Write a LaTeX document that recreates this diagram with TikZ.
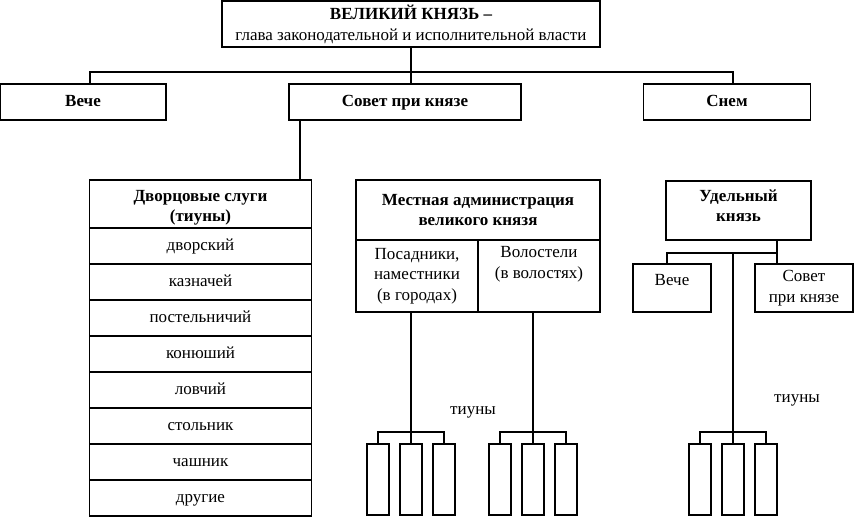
\documentclass[tikz,border=0pt]{standalone}
\usepackage{fontspec}
\setmainfont{Liberation Serif}
\begin{document}
\begin{tikzpicture}[x=1pt,y=-1pt,
  box/.style={draw, line width=1.1pt, inner sep=0pt, align=center, font=\fontsize{17}{20.5}\selectfont},
  bbox/.style={box, font=\fontsize{17}{20.5}\selectfont\bfseries},
  oneline/.style={text height=11.5pt, text depth=3.5pt},
  row/.style={box, oneline},
  ln/.style={line width=1.1pt},
  lbl/.style={inner sep=0pt, font=\fontsize{17}{20.5}\selectfont}]
\useasboundingbox (0,0) rectangle (855,517);
% top
\node[bbox, minimum width=378, minimum height=46] (top) at (411,24)
  {\rule{0pt}{15pt}ВЕЛИКИЙ КНЯЗЬ –\\ \mdseries глава законодательной и исполнительной власти};
\node[bbox, oneline, minimum width=166, minimum height=36] (veche) at (83,102) {Вече};
\node[bbox, oneline, minimum width=232, minimum height=36] (sovet) at (405,102) {Совет при князе};
\node[bbox, oneline, minimum width=167, minimum height=36] (snem) at (727,102) {Снем};
\coordinate (hl) at (90,72);
\coordinate (hr) at (733,72);
\draw[ln] (top.south -| 411,0) -- (sovet.north -| 411,0);
\draw[ln] (veche.north -| hl) -- (hl) -- (hr) -- (snem.north -| hr);
% palace servants
\node[bbox, minimum width=222, minimum height=48] (dh) at (200.5,204) {\rule{0pt}{19pt}Дворцовые слуги\\(тиуны)};
\foreach \t [count=\i] in {дворский,казначей,постельничий,конюший,ловчий,стольник,чашник,другие}
  \node[row, minimum width=222, minimum height=36] (r\i) at (200.5,210+36*\i) {\t};
\draw[ln] (sovet.south -| 300,0) -- (dh.north -| 300,0);
% local administration
\node[bbox, minimum width=244, minimum height=60] (mh) at (478,210) {Местная администрация\\великого князя};
\node[box, minimum width=122, minimum height=72] (ml) at (417,276) {Посадники,\\наместники\\(в городах)};
\node[box, minimum width=122, minimum height=72] (mr) at (539,276) {Волостели\\(в волостях)\\\strut};
% appanage prince
\node[bbox, minimum width=145, minimum height=59] (ud) at (738.5,210.5) {Удельный\\князь\rule[-10pt]{0pt}{10pt}};
\node[box, text height=12pt, text depth=17pt, minimum width=78, minimum height=48] (uv) at (672,288) {Вече};
\node[box, minimum width=98, minimum height=48] (us) at (804,288) {Совет\\при князе};
\coordinate (ul) at (667,253);
\coordinate (ur) at (777,253);
\coordinate (uc) at (733,253);
\draw[ln] (ud.south -| ur) -- (ur) -- (ul) -- (uv.north -| ul);
\draw[ln] (ur) -- (us.north -| ur);
% tiuny groups
\foreach \g/\cx in {a/411,b/533,c/733} {
  \node[box, minimum width=22, minimum height=71] (\g1) at (\cx-33,479.5) {};
  \node[box, minimum width=22, minimum height=71] (\g2) at (\cx,479.5) {};
  \node[box, minimum width=22, minimum height=71] (\g3) at (\cx+33,479.5) {};
  \coordinate (\g t) at (\cx,432);
  \draw[ln] (\g1.north) |- (\g t) -| (\g3.north);
  \draw[ln] (\g t) -- (\g2.north);
}
\draw[ln] (ml.south -| at) -- (at);
\draw[ln] (mr.south -| bt) -- (bt);
\draw[ln] (uc) -- (ct);
\node[lbl] (t1) at (473,412) {тиуны};
\node[lbl] (t2) at (797,400) {тиуны};
\end{tikzpicture}
\end{document}
